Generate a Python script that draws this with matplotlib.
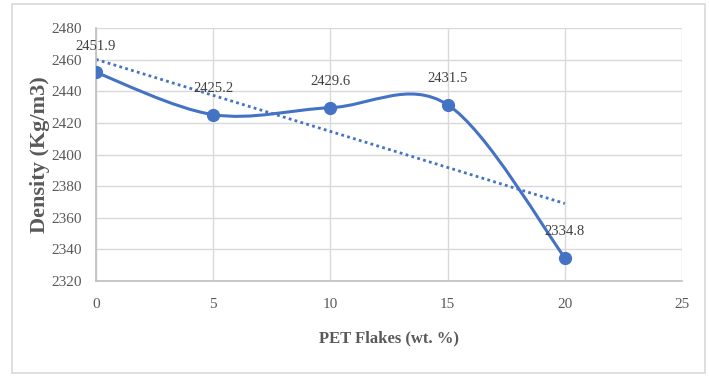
import matplotlib
matplotlib.use("Agg")
import matplotlib.pyplot as plt
import numpy as np
from matplotlib.path import Path
from matplotlib.patches import PathPatch, Rectangle

pet = [0, 5, 10, 15, 20]
density = [2451.9, 2425.2, 2429.6, 2431.5, 2334.8]
labels = ["2451.9", "2425.2", "2429.6", "2431.5", "2334.8"]
xticks = [0, 5, 10, 15, 20, 25]
yticks = [2320, 2340, 2360, 2380, 2400, 2420, 2440, 2460, 2480]

blue = "#4472C4"
grey_txt = "#595959"

plt.rcParams['font.family'] = ['Liberation Serif', 'DejaVu Serif']

fig = plt.figure(figsize=(7.09, 3.77), dpi=100)
ax = fig.add_axes([96/709, 1-281/377, (682-96)/709, (281-28)/377])

# figure border
fig.patches.append(Rectangle((12/709, 4/377), (705-12)/709, (373-4)/377,
                             transform=fig.transFigure, fill=False,
                             edgecolor="#D9D9D9", linewidth=1.2))

# smooth line (Catmull-Rom -> cubic Bezier), like Excel smoothed line
pts = np.column_stack([pet, density]).astype(float)
n = len(pts)
verts = [tuple(pts[0])]
codes = [Path.MOVETO]
for i in range(n - 1):
    p0 = pts[i - 1] if i > 0 else pts[i]
    p1 = pts[i]
    p2 = pts[i + 1]
    p3 = pts[i + 2] if i + 2 < n else pts[i + 1]
    c1 = p1 + (p2 - p0) / 6.0
    c2 = p2 - (p3 - p1) / 6.0
    verts += [tuple(c1), tuple(c2), tuple(p2)]
    codes += [Path.CURVE4] * 3
ax.add_patch(PathPatch(Path(verts, codes), facecolor="none", edgecolor=blue,
                       linewidth=2.2, zorder=3, capstyle="round"))
ax.plot(pet, density, linestyle="none", marker="o", markersize=8.5,
        color=blue, zorder=4)

# linear trendline
coef = np.polyfit(pet, density, 1)
xt = np.array([pet[0], pet[-1]])
ax.plot(xt, np.polyval(coef, xt), linestyle=(0, (1, 1.2)), color=blue,
        linewidth=2.0, zorder=2)

for x, y, t in zip(pet, density, labels):
    ax.annotate(t, (x, y), xytext=(0, 19), textcoords="offset points",
                ha="center", va="center", fontsize=10.5, color="#404040",
                zorder=5)

ax.set_xlim(0, 25)
ax.set_ylim(2320, 2480)
ax.set_xticks(xticks)
ax.set_yticks(yticks)
ax.grid(True, color="#D9D9D9", linewidth=1.0)
ax.set_axisbelow(True)
for s in ["top", "right"]:
    ax.spines[s].set_visible(False)
for s in ["left", "bottom"]:
    ax.spines[s].set_color("#BFBFBF")
    ax.spines[s].set_linewidth(1.2)
ax.tick_params(axis="both", length=0, labelsize=11, colors=grey_txt)
ax.tick_params(axis="x", pad=12)
ax.tick_params(axis="y", pad=10)

ax.set_xlabel("PET Flakes (wt. %)", fontsize=12, fontweight="bold",
              color=grey_txt, labelpad=14)
ax.set_ylabel("Density (Kg/m3)", fontsize=16, fontweight="bold",
              color=grey_txt, labelpad=1)

fig.savefig("out.png", dpi=100)
